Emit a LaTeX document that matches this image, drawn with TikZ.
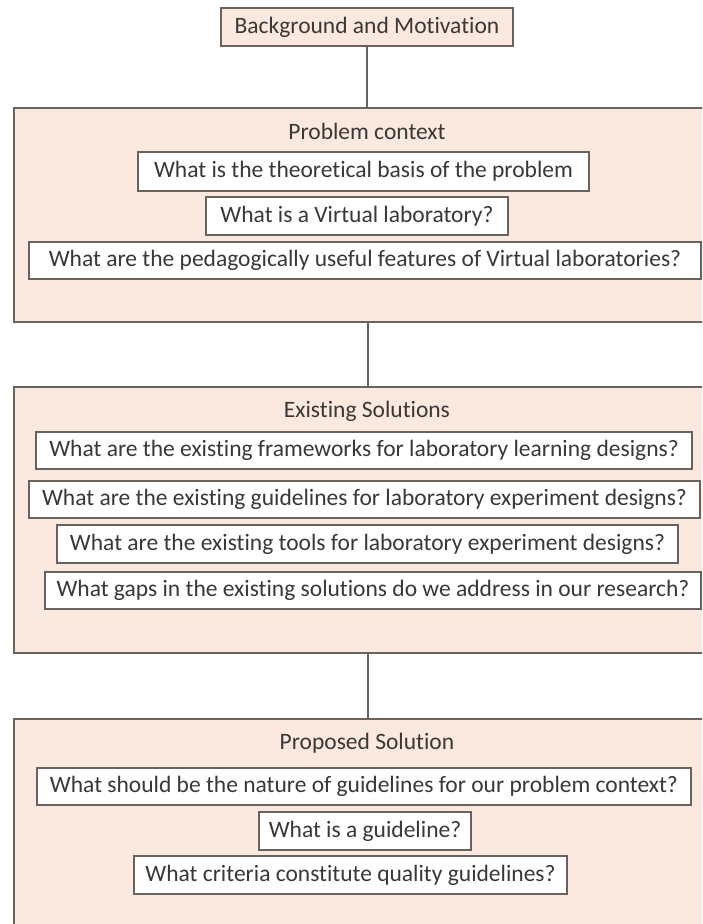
\documentclass[tikz,border=0pt]{standalone}
\usepackage{fontspec}
\setmainfont{Carlito}[Ligatures=NoCommon]
\definecolor{edge}{HTML}{6A625D}
\definecolor{panel}{HTML}{FBE8DE}
\definecolor{ink}{HTML}{3A3836}
\begin{document}
\begin{tikzpicture}[x=1pt,y=-1pt,
  panelbox/.style={draw=edge, line width=1.3pt, fill=panel, inner sep=0pt},
  qbox/.style={draw=edge, line width=1.3pt, fill=white, inner sep=0pt,
    minimum height=37pt, text=ink, font=\fontsize{23.5}{28}\selectfont},
  heading/.style={inner sep=0pt, text=ink, font=\fontsize{23.5}{28}\selectfont},
  link/.style={draw=edge, line width=1.3pt}]
\useasboundingbox (0,0) rectangle (702,924);
\clip (0,0) rectangle (702,924);
\fill[white] (0,0) rectangle (702,924);

% top item
\node[qbox, fill=panel, minimum width=292pt, minimum height=38pt] (bg) at (367,27) {Background and Motivation};

% section panels (they run past the right and bottom edges)
\node[panelbox, minimum width=708pt, minimum height=214pt] (pc) at (368,215) {};
\node[panelbox, minimum width=708pt, minimum height=266pt] (es) at (368,520) {};
\node[panelbox, minimum width=708pt, minimum height=242pt] (ps) at (368,840) {};

% problem context
\node[heading] (pct) at (367,131) {Problem context};
\node[qbox, minimum width=451pt, minimum height=39pt] (q1) at (363.5,171.5) {What is the theoretical basis of the problem};
\node[qbox, minimum width=302pt, minimum height=38pt] (q2) at (357,216) {What is a Virtual laboratory?};
\node[qbox, minimum width=672pt] (q3) at (365,260.5) {What are the pedagogically useful features of Virtual laboratories?};

% existing solutions
\node[heading] (est) at (367,411) {Existing Solutions};
\node[qbox, minimum width=656pt] (e1) at (364,450.5) {What are the existing frameworks for laboratory learning designs?};
\node[qbox, minimum width=671pt] (e2) at (364.5,499.5) {What are the existing guidelines for laboratory experiment designs?};
\node[qbox, minimum width=621pt, minimum height=38pt] (e3) at (367.5,544) {What are the existing tools for laboratory experiment designs?};
\node[qbox, minimum width=656pt] (e4) at (373,590.5) {What gaps in the existing solutions do we address in our research?};

% proposed solution
\node[heading] (pst) at (367,743) {Proposed Solution};
\node[qbox, minimum width=654pt] (p1) at (364,786.5) {What should be the nature of guidelines for our problem context?};
\node[qbox, minimum width=212pt, minimum height=38pt] (p2) at (365,831) {What is a guideline?};
\node[qbox, minimum width=433pt, minimum height=38pt] (p3) at (350.5,875) {What criteria constitute quality guidelines?};

% connectors
\draw[link] (bg.south) -- (bg.south |- pc.north);
\draw[link] (pc.south) -- (es.north);
\draw[link] (es.south) -- (ps.north);
\end{tikzpicture}
\end{document}
